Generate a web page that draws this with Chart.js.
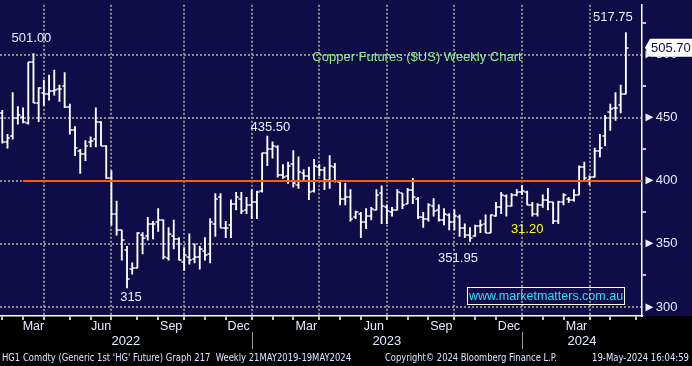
<!DOCTYPE html>
<html>
<head>
<meta charset="utf-8">
<script src="https://cdn.jsdelivr.net/npm/chart.js@4.4.1/dist/chart.umd.min.js"></script>
<style>
	html, body { margin: 0; padding: 0; background: #000; }
	#caixa { width: 692px; height: 366px; }
</style>
</head>
<body>
<div id="caixa"><canvas id="grafico" width="692" height="366"></canvas></div>
<script>
// barras semanais HG1, barra 0 = sexta 28-Jan-2022
const primeiraSemana = Date.UTC(2022, 0, 28);

const abertura = [
	454,431,436,450,451,446,494,462,470,469, 471,473,475,459,440,424,421,431,433,447,
	428,402,374,361,345,330,331,357,356,366, 367,369,339,356,354,336,340,338,340,344,
	342,366,387,363,365,382,386,377,381,383, 392,422,425,427,405,404,413,397,406,404,
	392,411,409,401,411,399,386,387,371,374, 367,372,377,390,379,375,377,390,382,393,
	386,371,370,380,377,369,373,367,371,363, 357,356,364,366,359,372,379,388,380,389,
	391,391,381,374,381,385,383,368,383,386, 385,389,411,401,403,424,436,455,458,460,469
];
const maxima = [
	456,437,470,459,458,494,501,474,480,484, 488,476,486,461,443,425,432,435,458,447,
	428,408,384,361,348,335,359,359,371,368, 378,369,363,369,355,347,358,350,348,355,
	370,390,390,368,385,391,391,387,393,392, 422,435.5,431,428,413,415,424,419,409,411,
	417,413,411,420,414,400,398,393,376,375, 378,379,393,396,381,379,393,390,394,402,
	387,375,382,386,381,378,374,377,373,366, 363,365,369,373,373,383,391,389,390,393,
	396,392,383,382,389,394,383,384,390,387, 393,412,415,404,426,437,452,461,470,476,517.75
];
const minima = [
	430,426,433,445,446,445,462,447,460,464, 468,463,458,437,420,406,416,427,427,428,
	402,365,357,337,315,326,331,342,353,354, 360,338,337,346,337,329,334,335,330,337,
	335,356,363,355,355,377,374,374,370,370, 391,412,418,403,402,398,395,394,400,385,
	391,404,393,394,399,381,381,368,370,355, 362,369,377,366,366,372,377,378,382,382,
	370,363,368,372,368,365,361,361,356,355, 351.95,356,359,359,359,372,374,372,380,388,
	389,381,372,372,379,377,366,366,381,383, 384,389,400,397,403,419,428,440,448,454,469
];
const fecho = [
	431,434,450,452,447,494,462,474,469,471, 472,473,459,440,426,421,428,432,447,428,
	402,374,361,353,322,331,359,355,366,366, 369,340,358,354,337,341,337,340,346,341,
	367,386,363,363,382,387,376,381,383,391, 422,425,428,405,403,412,398,407,404,391,
	412,409,401,412,400,386,387,370,375,367, 372,378,389,380,376,377,391,381,393,387,
	371,370,381,376,369,374,367,372,363,357, 355,364,365,359,373,379,389,380,389,391,
	392,381,374,381,385,383,368,383,389,385, 389,411,402,403,424,426,450,457,458,469,505.7
];

const nivel = 400;        // linha laranja
const nivelDesde = 4;     // barra onde começa
const ultimoPreco = 505.70;

const nomesMeses = ['Jan','Feb','Mar','Apr','May','Jun','Jul','Aug','Sep','Oct','Nov','Dec'];
const mesesComRotulo = [2, 5, 8, 11];   // Mar Jun Sep Dec
const mesesComGrade = [0, 3, 6, 9];     // linhas pontilhadas
const anos = [2022, 2023, 2024];
const precosEixo = [300, 325, 350, 375, 400, 425, 450, 475, 500, 525];

const notas = [
	{ txt: '501.00', barra: 6, em: 'max', dx: -2, dy: -15, cor: '#e8eeff' },
	{ txt: '435.50', barra: 51, em: 'max', dx: 3, dy: -9, cor: '#e8eeff' },
	{ txt: '517.75', barra: 120, em: 'max', dx: -13, dy: -15, cor: '#e8eeff' },
	{ txt: '315', barra: 24, em: 'min', dx: 4, dy: 9, cor: '#e8eeff' },
	{ txt: '351.95', barra: 90, em: 'min', dx: -12, dy: 17, cor: '#e8eeff' },
	{ txt: '31.20', barra: 101, em: 'min', dx: 0, dy: 25, cor: '#ffff00' }
];

const xMin = -0.44, xMax = 123.1;
const yMin = 292.8, yMax = 539.7;

const DIA = 86400000;
function barraAntes(d) { // ultima barra com data anterior a d
	return Math.ceil((d - primeiraSemana) / (7 * DIA)) - 1;
}

// marcas de mês
let tickMeses = [];
for (let a = 2022, m = 1; a < 2024 || m <= 5; m++) {
	if (m > 11) { m = 0; a++; }
	tickMeses.push({ v: barraAntes(Date.UTC(a, m, 1)), mes: m, ano: a });
	if (a === 2024 && m === 5) break;
}

let rotulosMes = [];
for (let i = 0; i < tickMeses.length - 1; i++) {
	if (mesesComRotulo.includes(tickMeses[i].mes)) {
		rotulosMes.push({ v: (tickMeses[i].v + tickMeses[i + 1].v) / 2, txt: nomesMeses[tickMeses[i].mes] });
	}
}

const viradas = tickMeses.filter(t => t.mes === 0).map(t => t.v);
const limitesAno = [xMin, ...viradas, xMax];
const rotulosAno = anos.map((a, i) => ({ v: (limitesAno[i] + limitesAno[i + 1]) / 2, txt: String(a) }));

const indices = fecho.map((c, i) => i);

function tracinho(lado) {
	const c = document.createElement('canvas');
	c.width = 6; c.height = 2;
	const g = c.getContext('2d');
	g.fillStyle = '#ffffff';
	g.fillRect(lado === 'esq' ? 0.5 : 3, 0.25, 2.5, 1.5);
	return c;
}

const fundo = {
	id: 'fundo',
	beforeDraw(chart) {
		const { ctx, chartArea } = chart;
		ctx.save();
		ctx.fillStyle = '#000000';
		ctx.fillRect(0, 0, chart.width, chart.height);
		ctx.fillStyle = '#100c48';
		ctx.fillRect(0, 0, chart.width, chartArea.bottom);
		ctx.restore();
	}
};

const textos = {
	id: 'textos',
	afterDraw(chart) {
		const { ctx, chartArea } = chart;
		const x = chart.scales.x, y = chart.scales.y;
		ctx.save();
		ctx.textAlign = 'center';
		ctx.textBaseline = 'middle';

		ctx.font = '13px "Liberation Sans", Arial, sans-serif';
		notas.forEach(n => {
			const v = n.em === 'max' ? maxima[n.barra] : minima[n.barra];
			ctx.fillStyle = n.cor;
			ctx.fillText(n.txt, x.getPixelForValue(n.barra) + n.dx, y.getPixelForValue(v) + n.dy);
		});

		ctx.fillStyle = '#8cf08c';
		ctx.fillText('Copper Futures ($US) Weekly Chart', 417, 57);

		// caixa do site
		const bx = chartArea.right - 175, by = chartArea.bottom - 29;
		ctx.strokeStyle = '#ffffff';
		ctx.lineWidth = 1;
		ctx.strokeRect(bx + 0.5, by + 0.5, 157, 17);
		ctx.fillStyle = '#1ee4ff';
		ctx.font = '12.5px "Liberation Sans", Arial, sans-serif';
		ctx.fillText('www.marketmatters.com.au', bx + 79, by + 9.5);

		// etiqueta do último preço
		const py = y.getPixelForValue(ultimoPreco);
		const ex = chartArea.right + 3;
		ctx.fillStyle = '#ffffff';
		ctx.beginPath();
		ctx.moveTo(ex, py);
		ctx.lineTo(ex + 5, py - 9);
		ctx.lineTo(chart.width, py - 9);
		ctx.lineTo(chart.width, py + 9);
		ctx.lineTo(ex + 5, py + 9);
		ctx.closePath();
		ctx.fill();
		ctx.fillStyle = '#100c48';
		ctx.font = '13px "Liberation Sans", Arial, sans-serif';
		ctx.textAlign = 'left';
		ctx.fillText(ultimoPreco.toFixed(2), ex + 6, py + 0.5);

		// separadores de ano
		ctx.strokeStyle = '#9a9a9a';
		ctx.lineWidth = 1;
		viradas.forEach(v => {
			const px = Math.round(x.getPixelForValue(v)) + 0.5;
			ctx.beginPath();
			ctx.moveTo(px, chartArea.bottom + 16);
			ctx.lineTo(px, chartArea.bottom + 33);
			ctx.stroke();
		});

		// rodapé
		ctx.fillStyle = '#dde4ff';
		ctx.font = '11px "DejaVu Sans Condensed", "Liberation Sans Narrow", sans-serif';
		ctx.textAlign = 'left';
		ctx.fillText("HG1 Comdty (Generic 1st 'HG' Future) Graph 217  Weekly 21MAY2019-19MAY2024", 2, 358, 349);
		ctx.fillText('Copyright\u00A9 2024 Bloomberg Finance L.P.', 385, 358, 172);
		ctx.fillText('19-May-2024 16:04:59', 592, 358, 97);
		ctx.restore();
	}
};

const corTexto = '#e6ecff';
const fonteEixo = { family: '"Liberation Sans", Arial, sans-serif', size: 12.5 };

new Chart(document.getElementById('grafico'), {
	type: 'bar',
	data: {
		datasets: [
			{
				type: 'line',
				data: [{ x: nivelDesde, y: nivel }, { x: xMax, y: nivel }],
				borderColor: '#ff5a0a',
				borderWidth: 2,
				pointRadius: 0,
				xAxisID: 'x', yAxisID: 'y'
			},
			{
				type: 'line',
				data: indices.map(i => ({ x: i, y: abertura[i] })),
				showLine: false,
				pointStyle: tracinho('esq'),
				pointRadius: 3,
				xAxisID: 'x', yAxisID: 'y'
			},
			{
				type: 'line',
				data: indices.map(i => ({ x: i, y: fecho[i] })),
				showLine: false,
				pointStyle: tracinho('dir'),
				pointRadius: 3,
				xAxisID: 'x', yAxisID: 'y'
			},
			{
				type: 'bar',
				data: indices.map(i => ({ x: i, y: [minima[i], maxima[i]] })),
				backgroundColor: '#ffffff',
				barThickness: 1.2,
				borderWidth: 0,
				xAxisID: 'x', yAxisID: 'y'
			}
		]
	},
	options: {
		responsive: false,
		animation: false,
		events: [],
		layout: { autoPadding: false, padding: { top: 0, left: 0, right: 0, bottom: 15 } },
		plugins: {
			legend: { display: false },
			tooltip: { enabled: false }
		},
		scales: {
			x: {
				type: 'linear', position: 'bottom', weight: 0,
				min: xMin, max: xMax, offset: false,
				afterBuildTicks: s => { s.ticks = tickMeses.map(t => ({ value: t.v })); },
				afterFit: s => { s.height = 4; },
				ticks: { display: false },
				grid: {
					offset: false,
					color: c => (c.index !== undefined && tickMeses[c.index] && mesesComGrade.includes(tickMeses[c.index].mes)) ? '#8c8c8c' : 'rgba(0,0,0,0)',
					lineWidth: 2,
					tickColor: '#ffffff',
					tickLength: 4,
					tickWidth: 1.5
				},
				border: { color: '#ffffff', width: 1.5, dash: [2, 2] }
			},
			xMes: {
				type: 'linear', position: 'bottom', weight: 1,
				min: xMin, max: xMax, offset: false,
				afterBuildTicks: s => { s.ticks = rotulosMes.map(r => ({ value: r.v })); },
				afterFit: s => { s.height = 15; },
				ticks: {
					autoSkip: false, maxRotation: 0, padding: -1,
					color: corTexto, font: fonteEixo,
					callback: (v, i) => rotulosMes[i] ? rotulosMes[i].txt : ''
				},
				grid: { display: false, drawTicks: false, offset: false },
				border: { display: false }
			},
			xAno: {
				type: 'linear', position: 'bottom', weight: 2,
				min: xMin, max: xMax, offset: false,
				afterBuildTicks: s => { s.ticks = rotulosAno.map(r => ({ value: r.v })); },
				afterFit: s => { s.height = 16; },
				ticks: {
					autoSkip: false, maxRotation: 0, padding: -1,
					color: corTexto, font: { family: fonteEixo.family, size: 13 },
					callback: (v, i) => rotulosAno[i] ? rotulosAno[i].txt : ''
				},
				grid: { display: false, drawTicks: false, offset: false },
				border: { display: false }
			},
			y: {
				type: 'linear', position: 'right',
				min: yMin, max: yMax,
				afterBuildTicks: s => { s.ticks = precosEixo.map(v => ({ value: v })); },
				afterFit: s => { s.width = 50; },
				ticks: {
					padding: -3, color: corTexto,
					font: { family: fonteEixo.family, size: 13 },
					callback: v => v % 50 === 0 ? '\u25BA' + v : ''
				},
				grid: {
					color: c => (c.tick && c.tick.value % 50 === 0) ? '#8c8c8c' : 'rgba(0,0,0,0)',
					lineWidth: 2,
					tickColor: c => (c.tick && c.tick.value % 50 === 0) ? 'rgba(0,0,0,0)' : '#ffffff',
					tickLength: 4,
					tickWidth: 1.5
				},
				border: { color: '#ffffff', width: 1.5, dash: [2, 2] }
			}
		}
	},
	plugins: [fundo, textos]
});
</script>
</body>
</html>
